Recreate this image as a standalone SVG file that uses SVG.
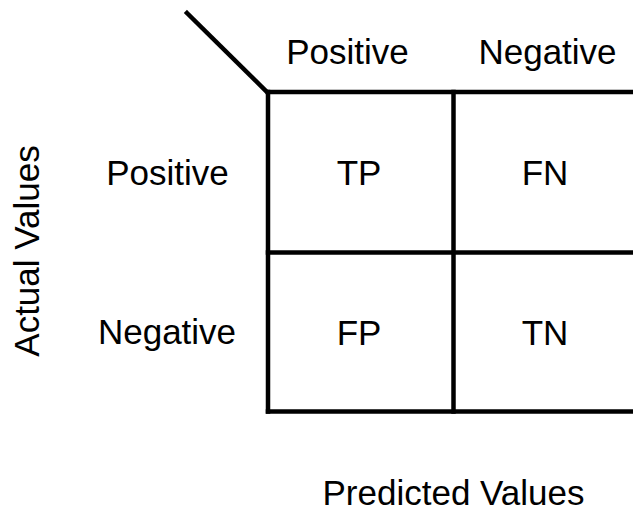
<svg xmlns="http://www.w3.org/2000/svg" width="633" height="511" viewBox="0 0 633 511">
  <style>
    .grid { stroke: #000; stroke-width: 4.5; fill: none; stroke-linecap: square; }
    .lbl { font-family: "Liberation Sans", Arial, sans-serif; font-size: 35px; fill: #000; text-anchor: middle; }
  </style>
  <rect width="633" height="511" fill="#fff"/>

  <!-- Matrix grid and corner slash -->
  <g id="connectors">
    <line class="grid" x1="187" y1="13" x2="267" y2="92" stroke-linecap="butt"/>
    <line class="grid" x1="268" y1="92" x2="640" y2="92"/>
    <line class="grid" x1="268" y1="252.5" x2="640" y2="252.5"/>
    <line class="grid" x1="268" y1="411.5" x2="640" y2="411.5"/>
    <line class="grid" x1="268" y1="92" x2="268" y2="411.5"/>
    <line class="grid" x1="453.5" y1="92" x2="453.5" y2="411.5"/>
  </g>

  <!-- Column headers -->
  <g id="col-positive"><text class="lbl" x="347.5" y="64">Positive</text></g>
  <g id="col-negative"><text class="lbl" x="547.5" y="64">Negative</text></g>

  <!-- Row headers -->
  <g id="row-positive"><text class="lbl" x="167.5" y="185">Positive</text></g>
  <g id="row-negative"><text class="lbl" x="167" y="344">Negative</text></g>

  <!-- Cells -->
  <g id="cell-tp"><text class="lbl" x="359" y="185">TP</text></g>
  <g id="cell-fn"><text class="lbl" x="545" y="185">FN</text></g>
  <g id="cell-fp"><text class="lbl" x="359" y="345">FP</text></g>
  <g id="cell-tn"><text class="lbl" x="545" y="345">TN</text></g>

  <!-- Axis titles -->
  <g id="axis-actual"><text class="lbl" transform="translate(38.5,251) rotate(-90)" x="0" y="0">Actual Values</text></g>
  <g id="axis-predicted"><text class="lbl" x="453.5" y="505">Predicted Values</text></g>
</svg>
